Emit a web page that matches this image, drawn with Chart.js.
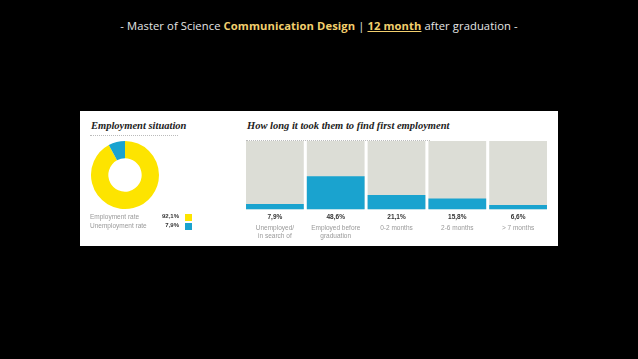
<!DOCTYPE html>
<html>
<head>
<meta charset="utf-8">
<script src="https://cdn.jsdelivr.net/npm/chart.js@4"></script>
<style>
  html, body { margin: 0; padding: 0; background: #000; }
  body { width: 638px; height: 359px; position: relative; overflow: hidden; }
  #title {
    position: absolute; left: 0; top: 18px; width: 638px; text-align: center;
    font-family: "Open Sans", sans-serif; font-size: 11.2px; color: #e6e6e6; letter-spacing: 0.1px;
  }
  #title b { color: #f2cf6e; font-weight: 700; }
  #title u { text-decoration-color: #f2cf6e; }
  #panel { position: absolute; left: 80px; top: 111px; width: 478px; height: 135px; background: #fff; }
  .head {
    position: absolute; font-family: "Liberation Serif", serif; font-style: italic; font-weight: bold;
    font-size: 10.5px; color: #222; white-space: nowrap;
  }
  .rule { position: absolute; height: 0; border-top: 1px dotted #bbb; }
  canvas { position: absolute; }
  .leg { position: absolute; font-family: "Liberation Sans Narrow", "Liberation Sans", sans-serif; font-size: 6.5px; color: #999; }
  .val { position: absolute; font-family: "Liberation Sans", sans-serif; font-weight: bold; font-size: 6px; color: #333; text-align: right; width: 30px; }
  .sw { position: absolute; width: 7px; height: 7px; }
</style>
</head>
<body>
<div id="title">- Master of Science <b>Communication Design</b> | <b><u>12 month</u></b> after graduation -</div>
<div id="panel"></div>
<div class="head" style="left:91px; top:120px;">Employment situation</div>
<div class="rule" style="left:90px; top:135px; width:88px;"></div>
<div class="head" style="left:247px; top:120px;">How long it took them to find first employment</div>
<div class="rule" style="left:246px; top:140px; width:184px;"></div>
<canvas id="donut" width="80" height="80" style="left:85px; top:135px; width:80px; height:80px;"></canvas>
<div id="legend"></div>
<canvas id="bars" width="316" height="117" style="left:238px; top:130px; width:316px; height:117px;"></canvas>
<script>
const situationLabels = ['Employment rate', 'Unemployment rate'];
const situationValues = [92.1, 7.9];
const situationColors = ['#fde400', '#1aa3cf'];

const timeLabels = [['Unemployed/', 'in search of'], ['Employed before', 'graduation'], '0-2 months', '2-6 months', '> 7 months'];
const timeValues = [7.9, 48.6, 21.1, 15.8, 6.6];
const trackValues = [100, 100, 100, 100, 100];

function fmt(v) { return v.toFixed(1).replace('.', ',') + '%'; }

// Employment doughnut
new Chart(document.getElementById('donut'), {
  type: 'doughnut',
  data: {
    labels: situationLabels,
    datasets: [{ data: situationValues, backgroundColor: situationColors, borderWidth: 0 }]
  },
  options: {
    responsive: false,
    animation: false,
    cutout: '49%',
    layout: { padding: 6 },
    plugins: { legend: { display: false }, tooltip: { enabled: false } }
  }
});

// legend rows with values
const legend = document.getElementById('legend');
situationLabels.forEach((lab, i) => {
  const y = 213 + i * 9;
  legend.insertAdjacentHTML('beforeend',
    `<div class="leg" style="left:90px; top:${y}px;">${lab}</div>` +
    `<div class="val" style="left:149px; top:${y}px;">${fmt(situationValues[i])}</div>` +
    `<div class="sw" style="left:185px; top:${y + 1}px; background:${situationColors[i]};"></div>`);
});

// percentages under each bar
const pctLabels = {
  id: 'pctLabels',
  afterDraw(chart) {
    const ctx = chart.ctx;
    const x = chart.scales.x;
    ctx.save();
    ctx.font = 'bold 6.5px "Liberation Sans", sans-serif';
    ctx.fillStyle = '#333';
    ctx.textAlign = 'center';
    ctx.textBaseline = 'middle';
    timeValues.forEach((v, i) => {
      ctx.fillText(fmt(v), x.getPixelForValue(i), chart.chartArea.bottom + 8);
    });
    ctx.restore();
  }
};

// Time to first employment bars
new Chart(document.getElementById('bars'), {
  type: 'bar',
  data: {
    labels: timeLabels,
    datasets: [
      { data: timeValues, backgroundColor: '#1aa3cf', order: 0 },
      { data: trackValues, backgroundColor: '#dcddd6', order: 1 }
    ]
  },
  options: {
    responsive: false,
    animation: false,
    grouped: false,
    categoryPercentage: 1,
    barPercentage: 0.95,
    layout: { padding: { left: 6.5, right: 5.5, top: 11, bottom: 0 } },
    scales: {
      x: {
        grid: { display: false }, border: { display: false },
        ticks: {
          padding: 7, maxRotation: 0, autoSkip: false, color: '#999',
          font: { family: '"Liberation Sans Narrow", "Liberation Sans", sans-serif', size: 6.5, lineHeight: 1.2 }
        }
      },
      y: { display: false, min: 0, max: 100 }
    },
    plugins: { legend: { display: false }, tooltip: { enabled: false } }
  },
  plugins: [pctLabels]
});
</script>
</body>
</html>
